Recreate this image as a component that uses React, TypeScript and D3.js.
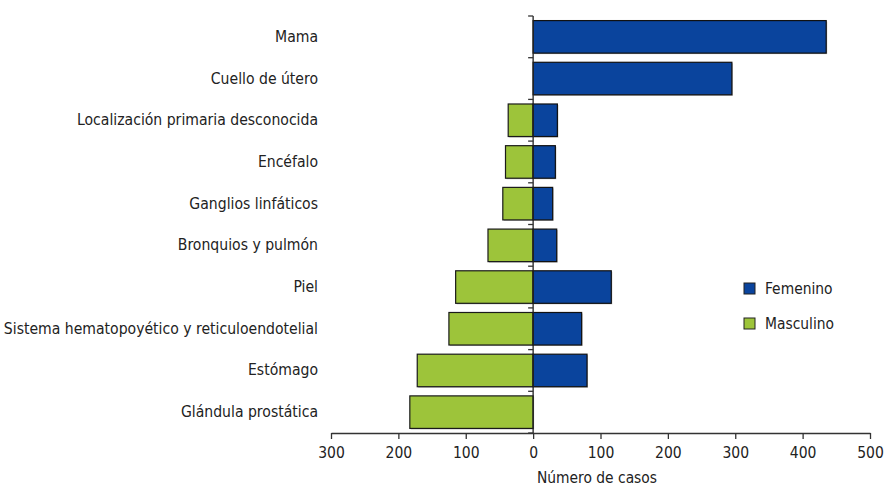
import { useEffect, useRef } from "react";
import * as d3 from "d3";

const WIDTH = 885;
const HEIGHT = 489;

const categories = [
  "Mama",
  "Cuello de útero",
  "Localización primaria desconocida",
  "Encéfalo",
  "Ganglios linfáticos",
  "Bronquios y pulmón",
  "Piel",
  "Sistema hematopoyético y reticuloendotelial",
  "Estómago",
  "Glándula prostática",
];

// Number of cases per sex
const femenino = [435, 295, 36, 33, 29, 35, 116, 72, 80, 0];
const masculino = [0, 0, 37, 41, 45, 67, 115, 125, 172, 183];

const xTicks = [-300, -200, -100, 0, 100, 200, 300, 400, 500];

const BLUE = "#0a449d";
const GREEN = "#9dc43a";
const FONT = "'Liberation Sans Narrow', 'DejaVu Sans Condensed', 'Arial Narrow', sans-serif";

export default function App() {
  const axesRef = useRef<SVGGElement>(null);

  const xScale = d3.scaleLinear().domain([-300, 500]).range([331, 870]);
  const yScale = d3
    .scaleBand()
    .domain(categories)
    .range([16, 433])
    .paddingInner(0.22)
    .paddingOuter(0.11);
  const step = yScale.step();
  const y0 = 16;
  const y1 = 433;

  useEffect(() => {
    const g = d3.select(axesRef.current);
    g.selectAll("*").remove();

    // x axis
    const xAxis = d3
      .axisBottom(xScale)
      .tickValues(xTicks)
      .tickSize(6)
      .tickSizeOuter(0)
      .tickFormat((d) => String(Math.abs(d as number)));
    const xg = g.append("g").attr("transform", `translate(0,${y1})`).call(xAxis);
    xg.select(".domain").attr("stroke", "#333").attr("stroke-width", 1.3);
    xg.selectAll(".tick line").attr("stroke", "#333").attr("stroke-width", 1.3);
    xg.selectAll(".tick text")
      .attr("font-family", FONT)
      .attr("font-size", 15.5)
      .attr("fill", "#222")
      .attr("dy", "1em");

    // vertical line at zero with ticks at band boundaries
    const x0 = xScale(0);
    g.append("line")
      .attr("x1", x0)
      .attr("x2", x0)
      .attr("y1", y0)
      .attr("y2", y1)
      .attr("stroke", "#222")
      .attr("stroke-width", 1.3);
    g.selectAll(".ytick")
      .data(d3.range(categories.length + 1))
      .enter()
      .append("line")
      .attr("x1", x0 - 5)
      .attr("x2", x0)
      .attr("y1", (i) => y0 + i * step)
      .attr("y2", (i) => y0 + i * step)
      .attr("stroke", "#333")
      .attr("stroke-width", 1.3);
  }, []);

  const bh = yScale.bandwidth();

  return (
    <svg width={WIDTH} height={HEIGHT} style={{ position: "absolute", left: 0, top: 0 }}>
      <rect width={WIDTH} height={HEIGHT} fill="#fff" />
      {/* category labels */}
      {categories.map((c) => (
        <text
          key={c}
          x={318}
          y={(yScale(c) as number) + bh / 2}
          textAnchor="end"
          dominantBaseline="central"
          fontFamily={FONT}
          fontSize={15.6}
          fill="#222"
        >
          {c}
        </text>
      ))}
      {/* bars */}
      {categories.map((c, i) => {
        const y = yScale(c) as number;
        const x0 = xScale(0);
        return (
          <g key={c}>
            {masculino[i] > 0 && (
              <>
                <rect x={xScale(-masculino[i]) + 1} y={y + 1} width={x0 - xScale(-masculino[i])} height={bh} fill="#bbb" />
                <rect x={xScale(-masculino[i])} y={y} width={x0 - xScale(-masculino[i])} height={bh} fill={GREEN} stroke="#1a1a1a" strokeWidth={1.2} />
              </>
            )}
            {femenino[i] > 0 && (
              <>
                <rect x={x0 + 1} y={y + 1} width={xScale(femenino[i]) - x0} height={bh} fill="#bbb" />
                <rect x={x0} y={y} width={xScale(femenino[i]) - x0} height={bh} fill={BLUE} stroke="#111" strokeWidth={1.2} />
              </>
            )}
          </g>
        );
      })}
      <g ref={axesRef} />
      <text x={597} y={483} textAnchor="middle" fontFamily={FONT} fontSize={15.4} fill="#222">
        Número de casos
      </text>
      {/* legend */}
      {[
        { label: "Femenino", color: BLUE, y: 283 },
        { label: "Masculino", color: GREEN, y: 318 },
      ].map((d) => (
        <g key={d.label}>
          <rect x={744} y={d.y} width={11} height={11} fill={d.color} stroke="#222" strokeWidth={1} />
          <text x={765} y={d.y + 6} dominantBaseline="central" fontFamily={FONT} fontSize={15.4} fill="#222">
            {d.label}
          </text>
        </g>
      ))}
    </svg>
  );
}
